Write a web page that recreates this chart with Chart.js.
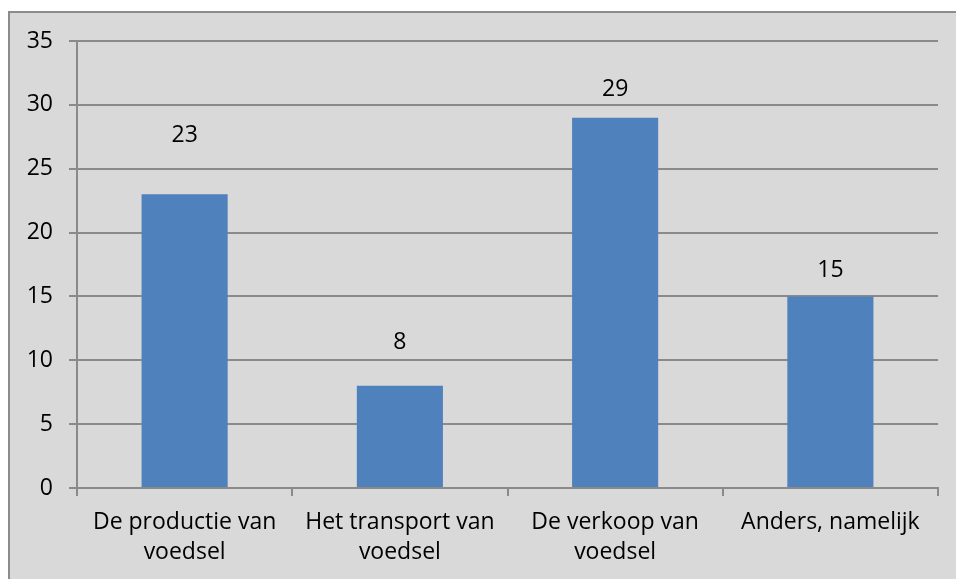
<!DOCTYPE html>
<html>
<head>
<meta charset="utf-8">
<script src="https://cdn.jsdelivr.net/npm/chart.js@4/dist/chart.umd.min.js"></script>
<style>
  html, body { margin: 0; padding: 0; background: #fff; }
  #frame {
    position: absolute; left: 8px; top: 11px; right: 0; bottom: 0;
    background: #d9d9d9; border-left: 2px solid #8c8c8c; border-top: 2px solid #8c8c8c;
  }
  #c { position: absolute; left: 0; top: 0; }
</style>
</head>
<body>
<div id="frame"></div>
<canvas id="c" width="956" height="579"></canvas>
<script>
// waarden uit de grafiek
const categories = [
  ['De productie van', 'voedsel'],
  ['Het transport van', 'voedsel'],
  ['De verkoop van', 'voedsel'],
  'Anders, namelijk'
];
const values = [23, 8, 29, 15];
const yTicks = [0, 5, 10, 15, 20, 25, 30, 35];

const FONT = '"Open Sans", "DejaVu Sans", sans-serif';
const GRID = '#8a8a8a';

// labels boven de balken (Excel zette ze niet overal even hoog)
const valueLabels = {
  id: 'valueLabels',
  afterDatasetsDraw(chart, args, opts) {
    const ctx = chart.ctx;
    const meta = chart.getDatasetMeta(0);
    ctx.save();
    ctx.font = '23px ' + FONT;
    ctx.fillStyle = '#000';
    ctx.textAlign = 'center';
    ctx.textBaseline = 'middle';
    meta.data.forEach((bar, i) => {
      ctx.fillText(String(values[i]), bar.x, bar.y - opts.offsets[i]);
    });
    ctx.restore();
  }
};

new Chart(document.getElementById('c'), {
  type: 'bar',
  data: {
    labels: categories,
    datasets: [{
      data: values,
      backgroundColor: '#4f81bd',
      categoryPercentage: 1,
      barPercentage: 0.4
    }]
  },
  options: {
    responsive: false,
    animation: false,
    layout: { padding: { left: 0, right: 18, top: 41, bottom: 0 } },
    plugins: {
      legend: { display: false },
      tooltip: { enabled: false },
      valueLabels: { offsets: [59, 43, 28, 26] }
    },
    scales: {
      x: {
        grid: { drawOnChartArea: false, drawTicks: true, tickLength: 8, color: GRID, lineWidth: 2 },
        border: { display: true, color: GRID, width: 2 },
        ticks: {
          color: '#000', padding: 12, maxRotation: 0, autoSkip: false,
          font: { family: FONT, size: 23, lineHeight: 1.3 }
        },
        afterFit: s => { s.height = 91; }
      },
      y: {
        min: 0, max: 35,
        afterBuildTicks: s => { s.ticks = yTicks.map(v => ({ value: v })); },
        grid: { color: GRID, lineWidth: 2, tickLength: 8 },
        border: { display: true, color: GRID, width: 2 },
        ticks: {
          color: '#000', padding: 16,
          font: { family: FONT, size: 23 }
        },
        afterFit: s => { s.width = 77; }
      }
    }
  },
  plugins: [valueLabels]
});
</script>
</body>
</html>
